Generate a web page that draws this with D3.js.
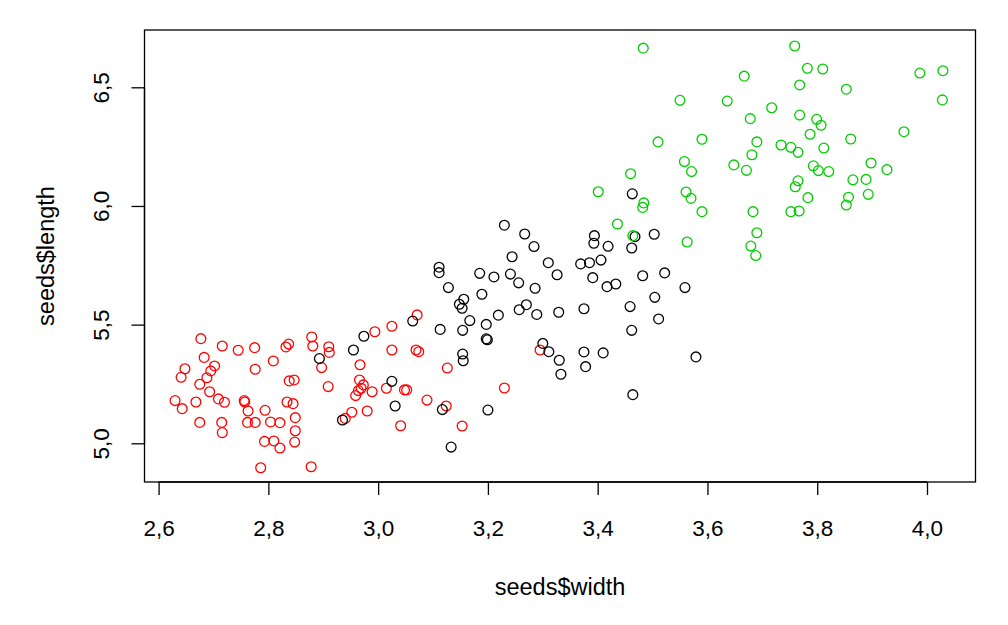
<!DOCTYPE html>
<html>
<head>
<meta charset="utf-8">
<script src="https://cdn.jsdelivr.net/npm/d3@7"></script>
<style>
  html, body { margin: 0; padding: 0; background: #ffffff; }
  svg { display: block; }
  text { font-family: Arial, "Liberation Sans", sans-serif; fill: #000; }
</style>
</head>
<body>
<svg id="chart" width="1008" height="625"></svg>
<script>
// ---- data ----
const redWidth = [2.677,2.716,2.745,2.775,2.683,2.702,2.695,2.688,2.648,2.641,
  2.675,2.693,2.630,2.643,2.668,2.709,2.720,2.675,2.715,2.716,
  2.776,2.809,2.756,2.757,2.763,2.762,2.776,2.794,2.804,2.821,
  2.793,2.810,2.821,2.786,2.832,2.837,2.838,2.847,2.834,2.845,
  2.849,2.849,2.848,2.878,2.879,2.881,2.910,2.911,2.897,2.909,
  3.071,2.994,3.025,3.025,3.069,3.074,2.967,3.126,2.966,2.973,
  2.969,2.964,2.959,2.989,3.015,3.048,3.052,3.089,3.124,2.980,
  2.952,2.940,3.041,3.153,3.230,3.295];
const redLength = [5.441,5.410,5.392,5.403,5.362,5.326,5.305,5.276,5.314,5.278,
  5.249,5.217,5.180,5.146,5.174,5.187,5.173,5.088,5.088,5.045,
  5.312,5.347,5.180,5.174,5.136,5.088,5.088,5.139,5.090,5.087,
  5.008,5.010,4.980,4.897,5.406,5.418,5.263,5.267,5.174,5.167,
  5.108,5.053,5.005,4.901,5.448,5.410,5.407,5.383,5.319,5.239,
  5.541,5.470,5.493,5.393,5.393,5.386,5.331,5.317,5.267,5.246,
  5.232,5.222,5.201,5.217,5.232,5.225,5.225,5.182,5.157,5.136,
  5.131,5.105,5.074,5.073,5.233,5.393];

const blackWidth = [2.893,2.935,2.955,2.974,3.063,3.113,3.154,3.167,3.197,3.219,
  3.197,3.199,3.257,3.270,3.289,3.329,3.300,3.311,3.330,3.333,
  3.154,3.155,3.025,3.031,3.117,3.200,3.133,3.156,3.148,3.153,
  3.230,3.267,3.284,3.244,3.310,3.326,3.111,3.111,3.185,3.211,
  3.241,3.256,3.286,3.128,3.189,3.394,3.393,3.468,3.503,3.419,
  3.462,3.369,3.385,3.406,3.391,3.417,3.433,3.482,3.522,3.559,
  3.504,3.375,3.459,3.511,3.462,3.375,3.410,3.378,3.579,3.464,
  3.463];
const blackLength = [5.357,5.098,5.393,5.451,5.515,5.480,5.476,5.517,5.501,5.540,
  5.440,5.436,5.563,5.584,5.543,5.552,5.421,5.386,5.350,5.291,
  5.376,5.348,5.261,5.157,5.142,5.140,4.984,5.607,5.586,5.569,
  5.919,5.882,5.829,5.786,5.761,5.710,5.742,5.719,5.716,5.701,
  5.713,5.676,5.653,5.656,5.628,5.875,5.843,5.871,5.881,5.830,
  5.823,5.756,5.761,5.772,5.698,5.660,5.671,5.706,5.718,5.656,
  5.615,5.567,5.576,5.524,5.476,5.385,5.381,5.323,5.364,5.205,
  6.051];

const greenWidth = [3.483,3.759,3.667,3.550,3.636,3.717,3.678,3.510,3.590,3.690,
  3.734,3.752,3.765,3.681,3.558,3.571,3.648,3.671,3.765,3.760,
  3.561,3.570,3.590,3.683,3.752,3.767,3.690,3.563,3.679,3.688,
  3.460,3.401,3.484,3.482,3.436,3.464,3.782,3.810,3.768,3.853,
  3.987,4.029,4.028,3.768,3.799,3.807,3.787,3.861,3.958,3.812,
  3.793,3.802,3.821,3.898,3.927,3.865,3.889,3.783,3.857,3.853,
  3.893];
const greenLength = [6.665,6.674,6.547,6.445,6.442,6.414,6.368,6.270,6.281,6.270,
  6.257,6.247,6.226,6.216,6.187,6.145,6.173,6.150,6.106,6.081,
  6.059,6.032,5.976,5.976,5.976,5.979,5.887,5.848,5.831,5.791,
  6.136,6.060,6.013,5.994,5.924,5.875,6.580,6.577,6.510,6.492,
  6.560,6.570,6.447,6.383,6.365,6.340,6.302,6.282,6.313,6.244,
  6.169,6.149,6.145,6.181,6.153,6.110,6.112,6.035,6.037,6.004,
  6.049];

const xTicks = [2.6, 2.8, 3.0, 3.2, 3.4, 3.6, 3.8, 4.0];
const xTickLabels = ["2,6","2,8","3,0","3,2","3,4","3,6","3,8","4,0"];
const yTicks = [5.0, 5.5, 6.0, 6.5];
const yTickLabels = ["5,0","5,5","6,0","6,5"];
const xTitle = "seeds$width";
const yTitle = "seeds$length";

const groups = [
  {w: redWidth, l: redLength, color: "#FF0000"},
  {w: blackWidth, l: blackLength, color: "#000000"},
  {w: greenWidth, l: greenLength, color: "#00CD00"}
];

// ---- layout ----
const box = {left: 144.5, right: 975.5, top: 30, bottom: 482};
const x = d3.scaleLinear().domain([2.6, 4.0]).range([158.6, 927]);
const y = d3.scaleLinear().domain([5.0, 6.5]).range([443.3, 87.3]);
const tickFont = 22.5;
const titleFont = 23.5;

const svg = d3.select("#chart");

// points
groups.forEach(g => {
  svg.append("g").selectAll("circle")
    .data(g.w.map((w, i) => [w, g.l[i]]))
    .join("circle")
    .attr("cx", d => x(d[0]))
    .attr("cy", d => y(d[1]))
    .attr("r", 4.9)
    .attr("fill", "none")
    .attr("stroke", g.color)
    .attr("stroke-width", 1.3);
});

// box
svg.append("rect")
  .attr("x", box.left).attr("y", box.top)
  .attr("width", box.right - box.left).attr("height", box.bottom - box.top)
  .attr("fill", "none").attr("stroke", "#000").attr("stroke-width", 1.3);

// x axis
const xAxis = d3.axisBottom(x).tickValues(xTicks)
  .tickFormat((d, i) => xTickLabels[i]).tickSize(13).tickPadding(25.5);
const gx = svg.append("g").attr("transform", `translate(0,${box.bottom})`).call(xAxis);
gx.select(".domain").attr("d", `M${x(xTicks[0])},0H${x(xTicks[xTicks.length-1])}`)
  .attr("stroke-width", 1.3);
gx.selectAll(".tick line").attr("stroke-width", 1.3);
gx.selectAll("text").attr("font-size", tickFont)
  .attr("font-family", "Arial, 'Liberation Sans', sans-serif");

// y axis
const yAxis = d3.axisLeft(y).tickValues(yTicks)
  .tickFormat((d, i) => yTickLabels[i]).tickSize(13).tickPadding(8);
const gy = svg.append("g").attr("transform", `translate(${box.left},0)`).call(yAxis);
gy.select(".domain").attr("d", `M0,${y(yTicks[0])}V${y(yTicks[yTicks.length-1])}`)
  .attr("stroke-width", 1.3);
gy.selectAll(".tick line").attr("stroke-width", 1.3);
gy.selectAll("text")
  .attr("font-size", tickFont)
  .attr("font-family", "Arial, 'Liberation Sans', sans-serif")
  .attr("x", null).attr("dy", null)
  .attr("text-anchor", "middle")
  .attr("transform", "translate(-36,0) rotate(-90)");

// titles
svg.append("text")
  .attr("x", (box.left + box.right) / 2).attr("y", 595)
  .attr("text-anchor", "middle").attr("font-size", titleFont)
  .text(xTitle);
svg.append("text")
  .attr("transform", `translate(54,${(box.top + box.bottom) / 2}) rotate(-90)`)
  .attr("text-anchor", "middle").attr("font-size", titleFont)
  .text(yTitle);
</script>
</body>
</html>
